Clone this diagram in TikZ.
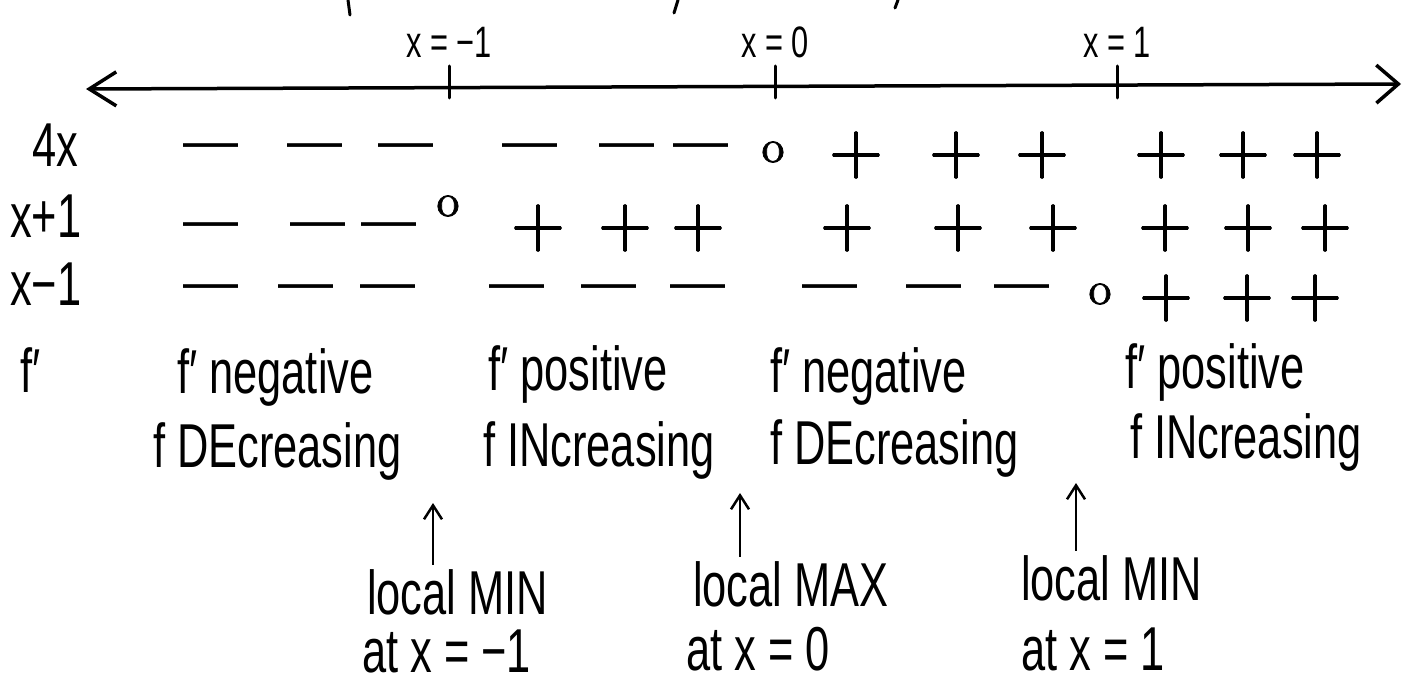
\documentclass[tikz,border=0pt]{standalone}
\usepackage{fontspec}
\setmainfont{Liberation Sans}[FakeStretch=0.7]
\newfontfamily\dashfont{Liberation Sans}
\newfontfamily\signfont{lmroman10-regular.otf}[FakeBold=1.6]
\newcommand{\fsz}[1]{\fontsize{#1}{#1}\selectfont}
\usetikzlibrary{arrows.meta}

\begin{document}
\begin{tikzpicture}[x=1pt,y=-1pt,
 lab/.style={anchor=base west,inner sep=0pt,font=\fsz{62}},
 xlab/.style={anchor=base,inner sep=0pt,font=\fsz{44}},
 mn/.style={inner sep=0pt,yshift=-6pt,font=\dashfont\fsz{55}},
 pl/.style={inner sep=0pt,font=\signfont\fsz{70}},
 zr/.style={inner sep=0pt,font=\signfont\fsz{46}},
 axis/.style={line width=3.5pt,line cap=round,{Straight Barb[length=27pt,width=34pt]}-{Straight Barb[length=22pt,width=38pt]}},
 tk/.style={line width=3pt,line cap=round},
 arr/.style={line width=2.5pt,shorten <=4pt,-{Straight Barb[length=14pt,width=18pt]}}]
\useasboundingbox (0,0) rectangle (1418,687);

% cut-off strokes along the top edge
\draw[tk] (348,0) -- (350,15);
\draw[tk] (678,0) -- (674,13);
\draw[tk] (898,0) -- (895,8);

% number line
\coordinate (axL) at (86,89);
\coordinate (axR) at (1401,84);
\draw[axis] (axL) -- (axR);
\foreach \tx/\lab/\nm in {449/{x = −1}/m, 775/{x = 0}/z, 1117/{x = 1}/p} {
  \draw[tk] (\tx,66) -- (\tx,98);
  \node[xlab] (lab\nm) at (\tx,58) {\lab};
}

% sign chart
\node[lab] (r1) at (32,167) {4x};
\foreach \sx [count=\i] in {211,315,406,530,627,701}
  \node[mn] (a\i) at (\sx,146) {—};
\node[zr] (a0) at (773,152) {o};
\foreach \sx [count=\i from 7] in {856,956,1042,1161,1243,1317}
  \node[pl] (a\i) at (\sx,155) {+};

\node[lab] (r2) at (10,237) {x+1};
\foreach \sx [count=\i] in {211,318,389}
  \node[mn] (b\i) at (\sx,225) {—};
\node[zr] (b0) at (448,206) {o};
\foreach \sx [count=\i from 4] in {538,625,698,847,958,1053,1165,1248,1325}
  \node[pl] (b\i) at (\sx,228) {+};

\node[lab] (r3) at (10,305) {x−1};
\foreach \sx [count=\i] in {211,306,388,517,609,698,830,934,1022}
  \node[mn] (c\i) at (\sx,287) {—};
\node[zr] (c0) at (1100,294) {o};
\foreach \sx [count=\i from 10] in {1166,1247,1315}
  \node[pl] (c\i) at (\sx,298) {+};

% f' row
\node[lab] (r4) at (20,392) {f′};
\node[lab] (s1) at (177,393) {f′ negative};
\node[lab] (s2) at (488,390) {f′ positive};
\node[lab] (s3) at (770,392) {f′ negative};
\node[lab] (s4) at (1125,388) {f′ positive};
\node[lab] (d1) at (153,467) {f DEcreasing};
\node[lab] (d2) at (483,466) {f INcreasing};
\node[lab] (d3) at (770,464) {f DEcreasing};
\node[lab] (d4) at (1130,458) {f INcreasing};

% extrema
\coordinate (t1) at (433,503);
\coordinate (t2) at (740,493);
\coordinate (t3) at (1076,483);
\node[lab] (e1) at (367,614) {local MIN};
\node[lab] (x1) at (362,672) {at x = −1};
\node[lab] (e2) at (693,606) {local MAX};
\node[lab] (x2) at (686,670) {at x = 0};
\node[lab] (e3) at (1021,600) {local MIN};
\node[lab] (x3) at (1021,670) {at x = 1};
\draw[arr] (t1 |- e1.north) -- (t1);
\draw[arr] (t2 |- e2.north) -- (t2);
\draw[arr] (t3 |- e3.north) -- (t3);
\end{tikzpicture}
\end{document}
